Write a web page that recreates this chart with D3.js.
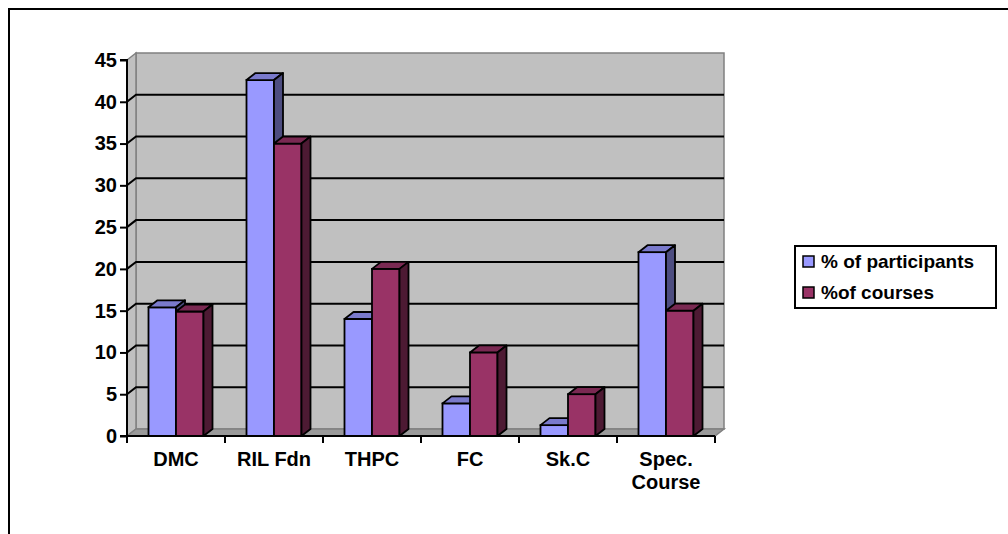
<!DOCTYPE html>
<html>
<head>
<meta charset="utf-8">
<script src="https://cdn.jsdelivr.net/npm/d3@7"></script>
<style>
  html, body { margin: 0; padding: 0; background: #fff; }
  svg { display: block; }
  text { font-family: "Liberation Sans", Arial, sans-serif; font-weight: bold; fill: #000; }
</style>
</head>
<body>
<svg id="chart" width="1008" height="534"></svg>
<script>
// Data
const categories = ["DMC", "RIL Fdn", "THPC", "FC", "Sk.C", "Spec. Course"];
const seriesNames = ["% of participants", "%of courses"];
const participants = [15.4, 42.6, 14, 3.9, 1.3, 22];
const courses = [14.9, 35, 20, 10, 5, 15];
const yTicks = [0, 5, 10, 15, 20, 25, 30, 35, 40, 45];

const seriesValues = [participants, courses];
const palette = [
  { front: "#9999ff", top: "#7a7acc", side: "#4d4d80" },
  { front: "#993366", top: "#7a2952", side: "#4d1a33" }
];
const FONT = "Liberation Sans, Arial, sans-serif";

const svg = d3.select("#chart");

// outer frame (open on the right and bottom)
svg.append("path")
  .attr("d", "M9,534 L9,9 L1008,9")
  .attr("fill", "none").attr("stroke", "#000").attr("stroke-width", 2);

// 3D projection offsets
const DX = 9, DY = -7;
const left = 127, right = 715;
const y = d3.scaleLinear().domain([0, 45]).range([436, 60]);
const x0 = d3.scaleBand().domain(categories).range([left, right]);
const x1 = d3.scaleBand().domain(seriesNames).range([21.5, x0.bandwidth() - 21.5]);

const g = svg.append("g");
const y0 = y(0), yTop = y(45);

// back wall
g.append("rect")
  .attr("x", left + DX).attr("y", yTop + DY)
  .attr("width", right - left).attr("height", y0 - yTop)
  .attr("fill", "#c0c0c0").attr("stroke", "#808080").attr("stroke-width", 1.5);

// side wall
g.append("path")
  .attr("d", `M${left},${y0} L${left},${yTop} L${left + DX},${yTop + DY} L${left + DX},${y0 + DY} Z`)
  .attr("fill", "#c0c0c0").attr("stroke", "#808080").attr("stroke-width", 1.5);

// floor
g.append("path")
  .attr("d", `M${left},${y0} L${left + DX},${y0 + DY} L${right + DX},${y0 + DY} L${right},${y0} Z`)
  .attr("fill", "#9a9a9a").attr("stroke", "#808080").attr("stroke-width", 1.5);

// gridlines across side wall and back wall
yTicks.filter(t => t > 0 && t < 45).forEach(t => {
  const yy = y(t);
  g.append("path")
    .attr("d", `M${left},${yy} L${left + DX},${yy + DY} L${right + DX},${yy + DY}`)
    .attr("fill", "none").attr("stroke", "#000").attr("stroke-width", 2);
});

// bars
const bars = g.append("g");
categories.forEach((c, i) => {
  seriesNames.forEach((s, j) => {
    const v = seriesValues[j][i];
    const bx = x0(c) + x1(s);
    const bw = x1.bandwidth();
    const by = y(v);
    const col = palette[j];
    // front face
    bars.append("rect")
      .attr("x", bx).attr("y", by).attr("width", bw).attr("height", y0 - by)
      .attr("fill", col.front).attr("stroke", "#000").attr("stroke-width", 1.8);
    // top face
    bars.append("path")
      .attr("d", `M${bx},${by} L${bx + DX},${by + DY} L${bx + bw + DX},${by + DY} L${bx + bw},${by} Z`)
      .attr("fill", col.top).attr("stroke", "#000").attr("stroke-width", 1.8).attr("stroke-linejoin", "round");
    // side face
    bars.append("path")
      .attr("d", `M${bx + bw},${by} L${bx + bw + DX},${by + DY} L${bx + bw + DX},${y0 + DY} L${bx + bw},${y0} Z`)
      .attr("fill", col.side).attr("stroke", "#000").attr("stroke-width", 1.8).attr("stroke-linejoin", "round");
  });
});

// y axis
const yAxis = d3.axisLeft(y).tickValues(yTicks).tickSize(7).tickPadding(3).tickFormat(d3.format("d"));
const ya = svg.append("g").attr("transform", `translate(${left},0)`).call(yAxis);
ya.attr("font-size", null).attr("font-family", null);
ya.select(".domain").attr("stroke", "#000").attr("stroke-width", 2).attr("d", `M-7,${yTop}H0V${y0}H-7`);
ya.selectAll(".tick line").attr("stroke", "#000").attr("stroke-width", 2);
ya.selectAll(".tick text").style("font-size", "20px").style("font-weight", "bold")
  .attr("fill", "#000").style("font-family", FONT);

// x axis
const xAxis = d3.axisBottom(x0).tickSize(0).tickPadding(0);
const xa = svg.append("g").attr("transform", `translate(0,${y0})`).call(xAxis);
xa.attr("font-size", null).attr("font-family", null);
xa.select(".domain").attr("stroke", "#000").attr("stroke-width", 2).attr("d", `M${left},0H${right}`);
xa.selectAll(".tick text").each(function(d) {
  const t = d3.select(this);
  t.text(null).attr("y", 0).attr("dy", null)
    .style("font-size", "20px").style("font-weight", "bold")
    .attr("fill", "#000").style("font-family", FONT);
  const lines = (d === "Spec. Course") ? ["Spec.", "Course"] : [d];
  lines.forEach((ln, k) => {
    t.append("tspan").attr("x", 0).attr("y", 30 + k * 23).text(ln);
  });
});
// boundary tick marks
const bounds = [left].concat(categories.map(c => x0(c) + x0.bandwidth()));
xa.selectAll(".bound").data(bounds).enter().append("line")
  .attr("class", "bound")
  .attr("x1", d => d).attr("x2", d => d).attr("y1", 0).attr("y2", 7)
  .attr("stroke", "#000").attr("stroke-width", 2);

// legend
const lg = svg.append("g").attr("transform", "translate(795,246)");
lg.append("rect").attr("x", 0).attr("y", 0).attr("width", 201).attr("height", 62)
  .attr("fill", "#fff").attr("stroke", "#000").attr("stroke-width", 2);
seriesNames.forEach((s, j) => {
  const ly = 15 + j * 31;
  lg.append("rect").attr("x", 8).attr("y", ly - 5).attr("width", 11).attr("height", 11)
    .attr("fill", palette[j].front).attr("stroke", "#000").attr("stroke-width", 1.5);
  lg.append("text").attr("x", 26).attr("y", ly + 7).style("font-size", "19px")
    .style("font-family", FONT).text(s);
});
</script>
</body>
</html>
